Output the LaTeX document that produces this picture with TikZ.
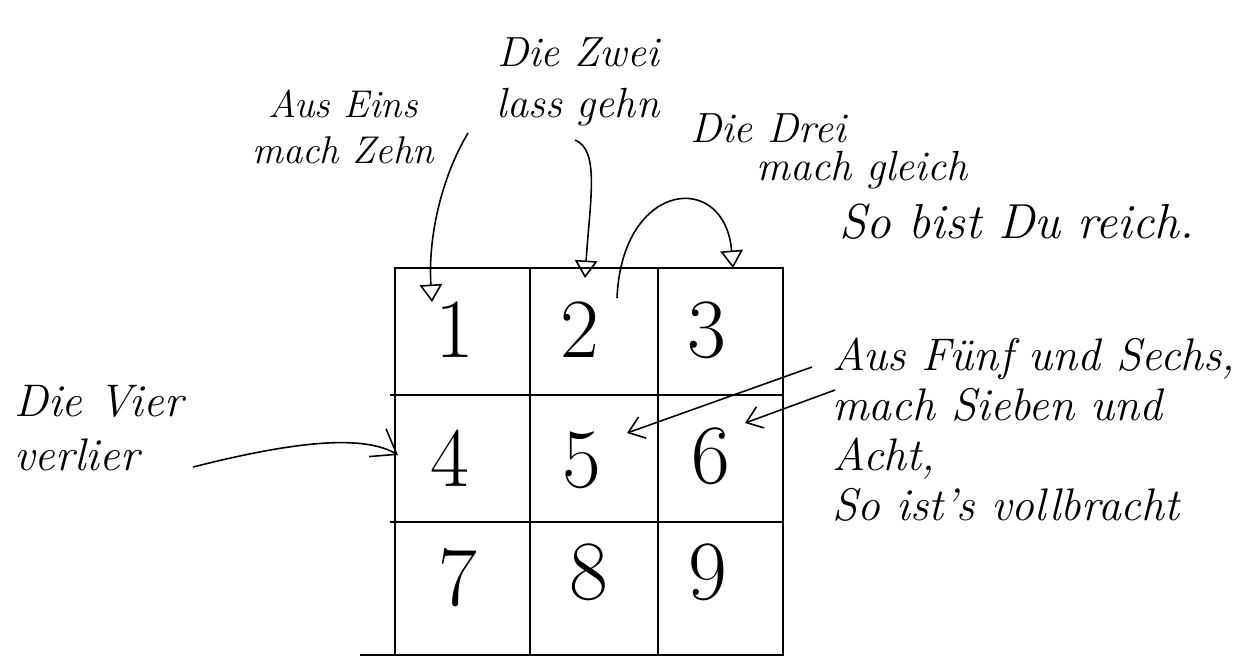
\documentclass[tikz,border=0pt]{standalone}
\usepackage{fontspec}
\usetikzlibrary{arrows.meta}
\tikzset{
  hand/.style={font=\fontsize{24}{29}\selectfont\itshape, inner sep=0pt},
  digit/.style={font=\fontsize{48}{50}\selectfont, inner sep=0pt},
  grid line/.style={line width=1.2pt},
  barb/.style={line width=0.9pt, -{Straight Barb[length=3mm,width=4.5mm]}},
  bigbarb/.style={line width=0.9pt, -{Straight Barb[length=4.5mm,width=6.5mm]}},
  opentip/.style={line width=0.9pt, -{Triangle[open,length=3.5mm,width=4.5mm]}},
}
\begin{document}
\begin{tikzpicture}[x=0.2mm,y=-0.2mm]
\useasboundingbox (0,0) rectangle (1255,657);
% the square
\draw[grid line] (395,268) rectangle (783,655);
\draw[grid line] (530,268) -- (530,655) (658,268) -- (658,655)
  (390,395) -- (783,395) (390,522) -- (783,522) (360,655) -- (395,655);
\foreach \n/\x/\y in {1/455/330,2/580/330,3/707/330,4/450/458,5/582/460,6/711/456,7/458/578,8/589/572,9/708/572}
  \node[digit] (c\n) at (\x,\y) {\n};
% the verses
\node[hand,align=center,font=\fontsize{22}{26}\selectfont\itshape] (eins) at (343,127) {Aus Eins\\mach Zehn};
\node[hand,align=center] (zwei) at (578,82) {Die Zwei\\lass gehn};
\node[hand] (drei) at (768,128) {Die Drei};
\node[hand] (gleich) at (862,170) {mach gleich};
\node[hand,font=\fontsize{28}{30}\selectfont\itshape] (reich) at (1017,222) {So bist Du reich.};
\node[hand,align=left,anchor=west,font=\fontsize{26}{31}\selectfont\itshape] (vier) at (14,428) {Die Vier\\verlier};
\node[hand,align=left,anchor=west,font=\fontsize{26}{28.5}\selectfont\itshape] (fuenf) at (832,430)
  {Aus Fünf und Sechs,\\mach Sieben und\\Acht,\\So ist's vollbracht};
\path
(468,133) coordinate (e0) (432,302) coordinate (e1)
(575,140) coordinate (z0) (585,278) coordinate (z1)
(617,298) coordinate (d0) (733,268) coordinate (d1)
(193,467) coordinate (v0) (398,455) coordinate (v1)
(812,367) coordinate (f0) (627,433) coordinate (f1)
(835,390) coordinate (s0) (745,423) coordinate (s1)
;
\draw[opentip] (e0) .. controls (440,180) and (428,240) .. (e1);
\draw[opentip] (z0) .. controls (600,150) and (590,200) .. (z1);
\draw[opentip] (d0) .. controls (622,180) and (725,170) .. (d1);
\draw[bigbarb] (v0) .. controls (280,445) and (360,432) .. (v1);
\draw[barb] (f0) -- (f1);
\draw[barb] (s0) -- (s1);
\end{tikzpicture}
\end{document}
